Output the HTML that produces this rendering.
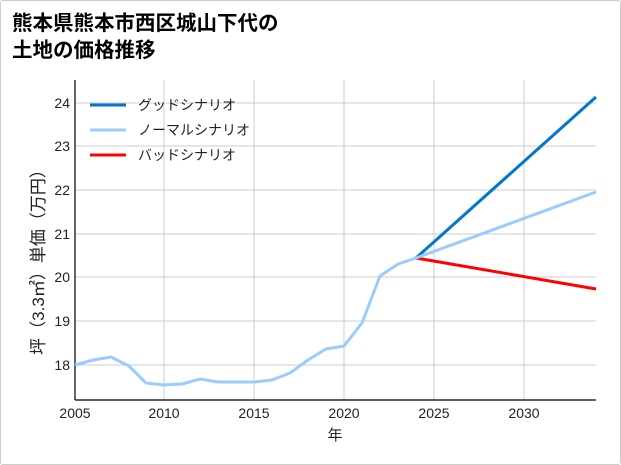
<!DOCTYPE html>
<html><head><meta charset="utf-8"><style>
html,body{margin:0;padding:0;background:#fff;}
.wrap{position:absolute;left:0;top:0;width:619px;height:463px;border:1px solid #ccc;border-radius:3px;background:#fff;}
.title{position:absolute;left:12px;top:10px;font:bold 20.5px/27px "Liberation Sans","Noto Sans CJK JP",sans-serif;color:#000;}
svg{position:absolute;left:0;top:0;}
text{font-family:"Liberation Sans","Noto Sans CJK JP",sans-serif;}
</style></head><body>
<div class="wrap"></div>
<div class="title">熊本県熊本市西区城山下代の<br>土地の価格推移</div>
<svg width="621" height="465" viewBox="0 0 621 465">
<g stroke="#ccc" stroke-width="1">
<line x1="164" y1="80" x2="164" y2="400"/><line x1="254" y1="80" x2="254" y2="400"/>
<line x1="344" y1="80" x2="344" y2="400"/><line x1="434" y1="80" x2="434" y2="400"/>
<line x1="524" y1="80" x2="524" y2="400"/>
<line x1="75" y1="103" x2="596" y2="103"/><line x1="75" y1="146" x2="596" y2="146"/>
<line x1="75" y1="190" x2="596" y2="190"/><line x1="75" y1="234" x2="596" y2="234"/>
<line x1="75" y1="277" x2="596" y2="277"/><line x1="75" y1="321" x2="596" y2="321"/>
<line x1="75" y1="365" x2="596" y2="365"/>
</g>
<g stroke="#000" stroke-width="1.2"><line x1="75" y1="80" x2="75" y2="400"/><line x1="75" y1="400" x2="596" y2="400"/></g>
<g font-size="14" fill="#222" text-anchor="end">
<text x="70" y="108">24</text><text x="70" y="151">23</text><text x="70" y="195">22</text>
<text x="70" y="239">21</text><text x="70" y="282">20</text><text x="70" y="326">19</text><text x="70" y="370">18</text>
</g>
<g font-size="14" fill="#222" text-anchor="middle">
<text x="75" y="418">2005</text><text x="164" y="418">2010</text><text x="254" y="418">2015</text>
<text x="344" y="418">2020</text><text x="434" y="418">2025</text><text x="524" y="418">2030</text>
<text x="335" y="440" font-size="15">年</text>
</g>
<text transform="translate(44,258) rotate(-90)" font-size="17" fill="#222" text-anchor="middle">坪（3.3㎡）単価（万円）</text>
<polyline fill="none" stroke="#0077cc" stroke-width="3" points="416,258 596,97"/>
<polyline fill="none" stroke="#ff0000" stroke-width="3" points="416,258 596,289"/>
<polyline fill="none" stroke="#99ccff" stroke-width="3" points="416,258 596,192"/>
<polyline fill="none" stroke="#99ccff" stroke-width="3" stroke-linejoin="round" points="75,365 93,360 111,357 129,366 146,383 164,385 182,384 200,379 218,382 236,382 254,382 272,380 290,373 308,360 326,349 344,346 362,323 380,276 398,264 416,258"/>
<g font-size="14" fill="#222">
<line x1="90" y1="105" x2="126" y2="105" stroke="#0077cc" stroke-width="3"/><text x="138" y="110">グッドシナリオ</text>
<line x1="90" y1="130" x2="126" y2="130" stroke="#99ccff" stroke-width="3"/><text x="138" y="135">ノーマルシナリオ</text>
<line x1="90" y1="155" x2="126" y2="155" stroke="#ff0000" stroke-width="3"/><text x="138" y="160">バッドシナリオ</text>
</g>
</svg>
</body></html>
